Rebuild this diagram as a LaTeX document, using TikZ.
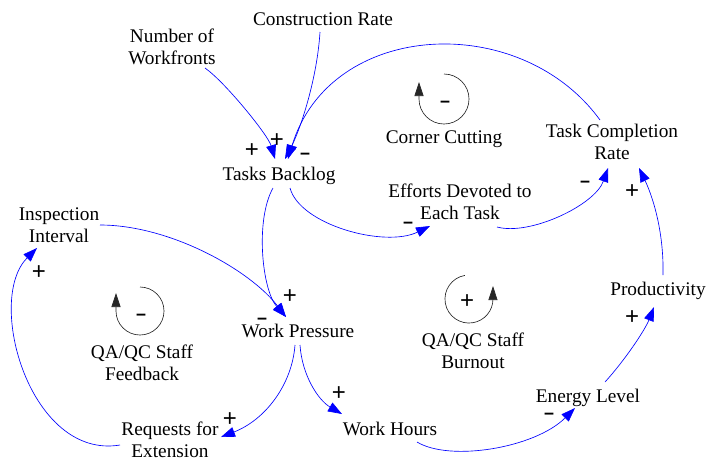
\documentclass[tikz,border=0pt]{standalone}
\usepackage{fontspec}
\usepackage{graphicx}
\setmainfont{Liberation Serif}
\newfontfamily\signfont{Liberation Sans}
\usetikzlibrary{arrows.meta}
\newcommand\mns{\scalebox{1.5}[1]{-}}
\begin{document}
\begin{tikzpicture}[x=1pt,y=-1pt,
  lbl/.style={font=\fontsize{19.3}{21.3}\selectfont, align=center, inner sep=0pt, anchor=base},
  link/.style={draw=blue, line width=0.65pt, -{Triangle[length=14pt,width=10pt]}},
  sgn/.style={font=\signfont\fontsize{24}{26}\selectfont, inner sep=0pt, text height=15pt, text depth=0pt},
  loopc/.style={draw=black!85, line width=0.65pt, -{Triangle[length=14pt,width=9pt]}}
]
\useasboundingbox (0,0) rectangle (706,459);

% variables (base = baseline of the last line)
\node[lbl] (cr)  at (323,25)  {Construction Rate};
\node[lbl] (nw)  at (172,64)  {Number of\\Workfronts};
\node[lbl] (tb)  at (279,180) {Tasks Backlog};
\node[lbl] (cc)  at (444,143) {Corner Cutting};
\node[lbl] (tcr) at (612,159) {Task Completion\\Rate};
\node[lbl] (edt) at (460,219) {Efforts Devoted to\\Each Task};
\node[lbl] (ii)  at (59,242)  {Inspection\\Interval};
\node[lbl] (wp)  at (298,337) {Work Pressure};
\node[lbl] (fb)  at (142,380) {QA/QC Staff\\Feedback};
\node[lbl] (bo)  at (473,368) {QA/QC Staff\\Burnout};
\node[lbl] (rfe) at (170,457) {Requests for\\Extension};
\node[lbl] (wh)  at (390,435) {Work Hours};
\node[lbl] (el)  at (588,402) {Energy Level};
\node[lbl] (pr)  at (658,295) {Productivity};

% links
\draw[link] ([shift={(33,4)}]nw.base) .. controls (225,82) and (268,135) .. ([shift={(-4,-21)}]tb.base);
\draw[link] ([shift={(-3,7)}]cr.base) .. controls (317,80) and (300,130) .. ([shift={(6,-21)}]tb.base);
\draw[link] ([shift={(-12,-39)}]tcr.base) .. controls (520,10) and (330,20) .. ([shift={(9,-21)}]tb.base);
\draw[link] ([shift={(11,8)}]tb.base) .. controls (300,225) and (385,248) .. ([shift={(-30,7)}]edt.base);
\draw[link] ([shift={(37,8)}]edt.base) .. controls (530,236) and (595,205) .. ([shift={(-4,9)}]tcr.base);
\draw[link] ([shift={(5,-20)}]pr.base) .. controls (664,230) and (652,195) .. ([shift={(27,9)}]tcr.base);
\draw[link] ([shift={(-6,8)}]tb.base) .. controls (255,220) and (262,290) .. ([shift={(-12,-20)}]wp.base);
\draw[link] ([shift={(41,-17)}]ii.base) .. controls (170,225) and (250,270) .. ([shift={(-12,-20)}]wp.base);
\draw[link] ([shift={(-3,8)}]wp.base) .. controls (292,385) and (265,420) .. ([shift={(51,-20)}]rfe.base);
\draw[link] ([shift={(2,8)}]wp.base) .. controls (302,375) and (318,400) .. ([shift={(-48,-21)}]wh.base);
\draw[link] ([shift={(-50,-12)}]rfe.base) .. controls (30,460) and (-15,300) .. ([shift={(-22,6)}]ii.base);
\draw[link] ([shift={(27,7)}]wh.base) .. controls (450,462) and (535,448) .. ([shift={(-13,6)}]el.base);
\draw[link] ([shift={(17,-20)}]el.base) .. controls (625,360) and (645,330) .. ([shift={(-4,12)}]pr.base);

% polarity signs
\node[sgn] (s1)  at (252,150) {+};
\node[sgn] (s2)  at (277,140) {+};
\node[sgn] (s3)  at (305,153) {\mns};
\node[sgn] (s4)  at (408,222) {\mns};
\node[sgn] (s5)  at (585,181) {\mns};
\node[sgn] (s6)  at (632,191) {+};
\node[sgn] (s7)  at (290,296) {+};
\node[sgn] (s8)  at (262,318) {\mns};
\node[sgn] (s9)  at (230,419) {+};
\node[sgn] (s10) at (339,393) {+};
\node[sgn] (s11) at (39,272)  {+};
\node[sgn] (s12) at (549,413) {\mns};
\node[sgn] (s13) at (632,317) {+};

% loop symbols
\draw[loopc] (444,74) arc[start angle=-90, end angle=180, radius=25] -- ++(0,-17);
\node[sgn] (l1) at (445,101) {\mns};
\draw[loopc] (140,287) arc[start angle=-90, end angle=180, radius=24] -- ++(0,-18);
\node[sgn] (l2) at (141,314) {\mns};
\draw[loopc] (464.8,275.4) arc[start angle=-100, end angle=-360, radius=24] -- ++(0,-13);
\node[sgn] (l3) at (467,301) {+};
\end{tikzpicture}
\end{document}
